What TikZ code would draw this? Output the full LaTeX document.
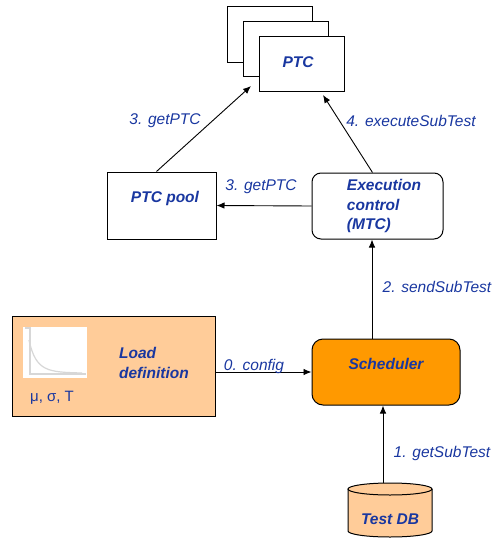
\documentclass[tikz,border=0pt]{standalone}
\usepackage{fontspec}
\setmainfont{Liberation Sans}
\usetikzlibrary{arrows.meta}
\definecolor{txtblue}{RGB}{25,55,160}
\definecolor{peach}{RGB}{255,204,153}
\definecolor{orng}{RGB}{255,153,0}
\definecolor{axisgrey}{RGB}{215,215,215}
\tikzset{
  box/.style={draw=black, line width=1pt, fill=white, inner sep=0pt},
  rbox/.style={box, rounded corners=9pt},
  title/.style={font=\fontsize{15.5}{19.5}\selectfont\bfseries\itshape, text=txtblue, align=left},
  lbl/.style={font=\fontsize{15.5}{18}\selectfont\itshape, text=txtblue, inner sep=0pt},
  arr/.style={draw=black, line width=0.9pt, -{Latex[length=8pt,width=6.5pt]}},
}
\begin{document}
\begin{tikzpicture}[x=1pt, y=-1pt]
\useasboundingbox (0,0) rectangle (498,538);

% stack of PTC instances
\node[box, minimum width=85pt, minimum height=56pt] (ptcA) at (269.5,34) {};
\node[box, minimum width=85pt, minimum height=55pt] (ptcB) at (285.5,48.5) {};
\node[box, minimum width=85pt, minimum height=55pt] (ptc) at (301.5,63.5) {};
\node[title] at (298,62) {PTC};

% PTC pool
\node[box, minimum width=109pt, minimum height=67pt] (pool) at (161.5,205.5) {};
\node[title] at (165,198) {PTC pool};

% execution control
\node[rbox, minimum width=131pt, minimum height=66pt] (exec) at (377.5,206) {};
\node[title] at (384,206) {Execution\\control\\(MTC)};

% scheduler
\node[rbox, fill=orng, rounded corners=11pt, minimum width=148pt, minimum height=66pt] (sched) at (386,372) {};
\node[title] at (386,364) {Scheduler};

% load definition
\node[box, fill=peach, minimum width=203pt, minimum height=100pt] (load) at (114,366) {};
\fill[white] (23,327) rectangle (87,378);
\draw[axisgrey, line width=1.2pt] (25,328) -- (30,328) -- (30,374) -- (86,374);
\draw[axisgrey, line width=1.2pt] (29,340) .. controls (36,372) and (48,372) .. (82,373);
\node[font=\fontsize{15}{18}\selectfont, text=txtblue] at (52,398) {μ, σ, T};
\node[title] at (154,363) {Load\\definition};

% test database
\fill[peach] (348,489) -- (348,531) arc[start angle=180, end angle=360, x radius=42pt, y radius=6pt] -- (432,489) arc[start angle=0, end angle=180, x radius=42pt, y radius=6pt];
\draw[black, line width=1pt] (348,489) -- (348,531) arc[start angle=180, end angle=360, x radius=42pt, y radius=6pt] -- (432,489);
\draw[black, line width=1pt] (390,489) ellipse[x radius=42pt, y radius=6pt];
\node[title] at (390,519) {Test DB};
\coordinate (dbtop) at (383,483);

% message flow
\coordinate (tipA) at (251,86);
\coordinate (tipB) at (323,95);
\draw[arr] ([xshift=-5pt]pool.north) -- (tipA);
\draw[arr] ([xshift=-5pt]exec.north) -- (tipB);
\draw[arr] (exec.west) -- (pool.east);
\draw[arr] ([xshift=-14pt]sched.north) -- ([xshift=-14pt]sched.north |- exec.south);
\draw[arr] (sched.west -| load.east) -- (sched.west);
\draw[arr] (dbtop) -- (dbtop |- sched.south);

\node[lbl] at (165,121) {3. getPTC};
\node[lbl] at (411,121) {4. executeSubTest};
\node[lbl] at (261,187) {3. getPTC};
\node[lbl] at (437,287) {2. sendSubTest};
\node[lbl] at (254,366) {0. config};
\node[lbl] at (442,453) {1. getSubTest};
\end{tikzpicture}
\end{document}
